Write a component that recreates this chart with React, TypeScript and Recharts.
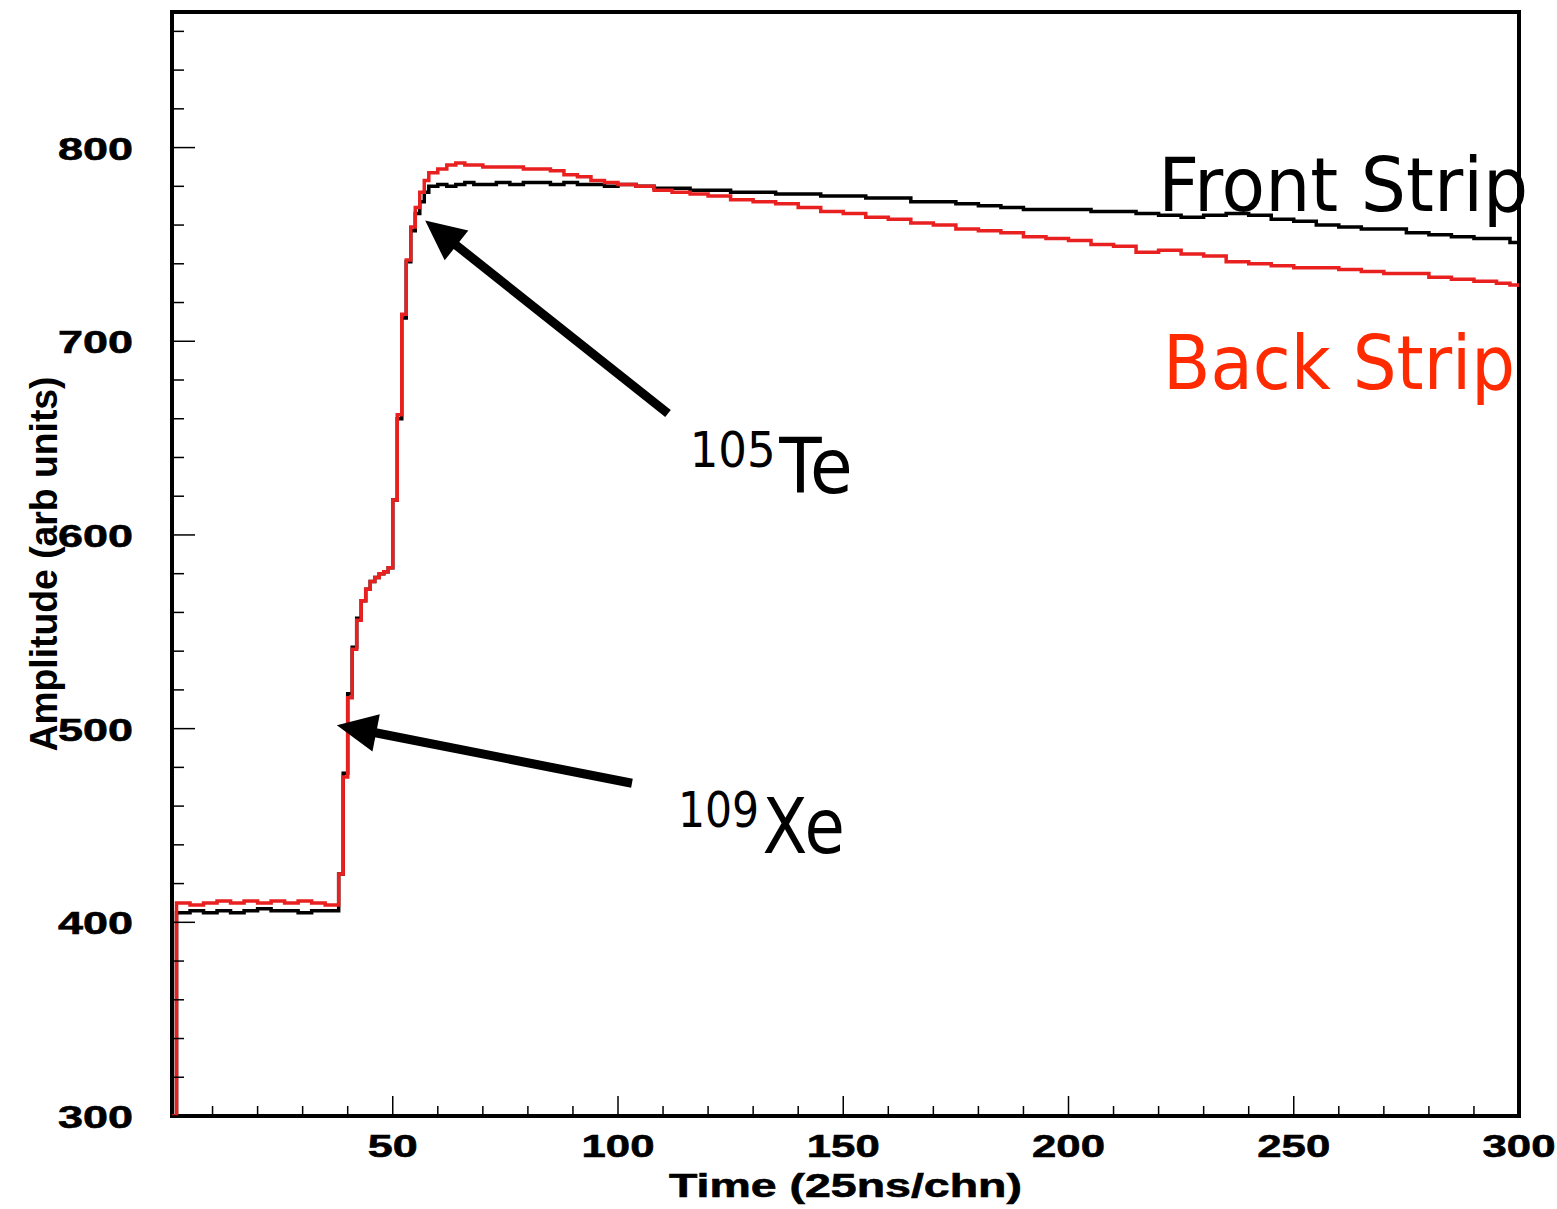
import React from 'react';
import {
  LineChart, Line, XAxis, YAxis, ReferenceArea, ReferenceLine, ReferenceDot,
} from 'recharts';

// ---- data ----
const channels = [1, 2, 5, 8, 11, 14, 17, 20, 23, 26, 29, 32, 35, 38, 39, 40, 41, 42, 43, 44, 45, 46, 47, 48, 49, 50, 51, 52, 53, 54, 55, 56, 57, 58, 60, 62, 64, 66, 68, 70, 73, 76, 79, 82, 85, 88, 91, 94, 97, 100, 104, 108, 112, 116, 120, 125, 130, 135, 140, 145, 150, 155, 160, 165, 170, 175, 180, 185, 190, 195, 200, 205, 210, 215, 220, 225, 230, 235, 240, 245, 250, 255, 260, 265, 270, 275, 280, 285, 290, 295, 298, 300];

const frontStrip = [300, 405, 406, 405, 406, 405, 406, 407, 406, 406, 405, 406, 406, 425, 477, 518, 542, 557, 566, 572, 576, 578, 580, 581, 583, 618, 660, 712, 741, 757, 766, 772, 777, 780, 781, 780, 781, 782, 781, 781, 782, 781, 782, 782, 781, 782, 781, 781, 780, 781, 780, 779, 779, 778, 778, 777, 777, 776, 776, 775, 775, 774, 774, 772, 772, 771, 770, 769, 768, 768, 768, 767, 767, 766, 765, 764, 765, 766, 765, 763, 762, 760, 759, 758, 758, 756, 755, 754, 753, 753, 751, 752];

const backStrip = [300, 410, 409, 410, 411, 410, 411, 410, 411, 410, 411, 410, 409, 425, 475, 516, 541, 556, 566, 572, 576, 578, 580, 581, 583, 618, 662, 714, 742, 759, 769, 777, 783, 787, 789, 791, 792, 791, 791, 790, 790, 790, 789, 789, 788, 786, 785, 783, 782, 781, 780, 778, 777, 776, 775, 773, 772, 771, 769, 767, 766, 764, 763, 761, 760, 758, 757, 756, 754, 753, 752, 750, 749, 746, 747, 745, 744, 741, 740, 739, 738, 738, 737, 736, 735, 735, 733, 732, 731, 730, 729, 728];

const xTicks = [10, 20, 30, 40, 50, 60, 70, 80, 90, 100, 110, 120, 130, 140, 150, 160, 170, 180, 190, 200, 210, 220, 230, 240, 250, 260, 270, 280, 290, 300];
const yTicks = [300, 320, 340, 360, 380, 400, 420, 440, 460, 480, 500, 520, 540, 560, 580, 600, 620, 640, 660, 680, 700, 720, 740, 760, 780, 800, 820, 840, 860];

const xLabel = 'Time (25ns/chn)';
const yLabel = 'Amplitude (arb units)';

// annotations (data coordinates)
const arrowTe = { tail: [111.1, 662.7], tip: [57.2, 762.3] };
const arrowXe = { tail: [103.1, 471.8], tip: [37.6, 501.8] };
const labelTe = { x: 115.9, y: 621.5, mass: '105', el: 'Te' };
const labelXe = { x: 113.3, y: 435.7, mass: '109', el: 'Xe' };
const labelFront = { x: 219.9, y: 767.5, text: 'Front Strip' };
const labelBack = { x: 221.0, y: 675.6, text: 'Back Strip' };

const data = channels.map((c, i) => ({ ch: c, front: frontStrip[i], back: backStrip[i] }));

const TICK_FONT = '"Liberation Sans", Arial, sans-serif';
const ANN_FONT = '"DejaVu Sans", Verdana, sans-serif';

const XTick = (props: any) => {
  const { x, y, payload } = props;
  const v = payload.value;
  const major = v % 50 === 0;
  const txt = String(v);
  return (
    <g>
      <line x1={x} y1={y} x2={x} y2={y - (major ? 20 : 10)} stroke="#000" strokeWidth={1.5} />
      {major && (
        <text x={x} y={y + 41} textAnchor="middle" fontFamily={TICK_FONT} fontWeight={700}
          fontSize={32} fill="#000" stroke="#000" strokeWidth={0.6}
          textLength={txt.length === 2 ? 50 : 73} lengthAdjust="spacingAndGlyphs">
          {txt}
        </text>
      )}
    </g>
  );
};

const YTick = (props: any) => {
  const { x, y, payload } = props;
  const v = payload.value;
  const major = v % 100 === 0;
  return (
    <g>
      <line x1={x} y1={y} x2={x + (major ? 23 : 12)} y2={y} stroke="#000" strokeWidth={1.5} />
      {major && (
        <text x={x - 114} y={y + 12} textAnchor="start" fontFamily={TICK_FONT} fontWeight={700}
          fontSize={32} fill="#000" stroke="#000" strokeWidth={0.6}
          textLength={75} lengthAdjust="spacingAndGlyphs">
          {String(v)}
        </text>
      )}
    </g>
  );
};

const Arrow = (props: any) => {
  const { x1, y1, x2, y2 } = props;
  const dx = x2 - x1;
  const dy = y2 - y1;
  const len = Math.sqrt(dx * dx + dy * dy) || 1;
  const ux = dx / len;
  const uy = dy / len;
  const headLen = 40;
  const headHalf = 19;
  const bx = x2 - ux * headLen;
  const by = y2 - uy * headLen;
  const px = -uy;
  const py = ux;
  return (
    <g>
      <line x1={x1} y1={y1} x2={bx + ux * 2} y2={by + uy * 2} stroke="#000" strokeWidth={9} />
      <polygon
        points={`${x2},${y2} ${bx + px * headHalf},${by + py * headHalf} ${bx - px * headHalf},${by - py * headHalf}`}
        fill="#000"
      />
    </g>
  );
};

const isotopeShape = (mass: string, el: string, totalLen: number) => (p: any) => (
  <text x={p.cx} y={p.cy} fontFamily={ANN_FONT} fill="#000"
    textLength={totalLen} lengthAdjust="spacingAndGlyphs">
    <tspan fontSize={50} dy={-26}>{mass}</tspan>
    <tspan fontSize={77} dy={26} dx={4}>{el}</tspan>
  </text>
);

const stripShape = (text: string, color: string, len: number) => (p: any) => (
  <text x={p.cx} y={p.cy} fontFamily={ANN_FONT} fontSize={74} fill={color}
    textLength={len} lengthAdjust="spacingAndGlyphs">{text}</text>
);

const XAxisLabel = (props: any) => {
  const vb = props.viewBox;
  return (
    <text x={vb.x + vb.width / 2} y={vb.y + 81} textAnchor="middle" fontFamily={TICK_FONT}
      fontWeight={700} fontSize={33} fill="#000" stroke="#000" strokeWidth={0.6}
      textLength={353} lengthAdjust="spacingAndGlyphs">
      {xLabel}
    </text>
  );
};

const YAxisLabel = (props: any) => {
  const vb = props.viewBox;
  const cx = 57;
  const cy = vb.y + vb.height / 2;
  return (
    <text x={cx} y={cy} textAnchor="middle" fontFamily={TICK_FONT} fontWeight={700}
      fontSize={39} fill="#000" transform={`rotate(-90, ${cx}, ${cy})`}
      textLength={375} lengthAdjust="spacingAndGlyphs">
      {yLabel}
    </text>
  );
};

export default function App() {
  return (
    <div style={{ position: 'absolute', left: 0, top: 0, width: 1557, height: 1209, background: '#fff' }}>
      <LineChart width={1557} height={1209} data={data}
        margin={{ top: 12, right: 38, bottom: 0, left: 0 }}>
        <XAxis dataKey="ch" type="number" domain={[1, 300]} ticks={xTicks} interval={0}
          axisLine={false} tickLine={false} tickSize={0} tickMargin={0} height={93}
          tick={<XTick />} label={<XAxisLabel />} allowDataOverflow />
        <YAxis type="number" domain={[300, 870]} ticks={yTicks} interval={0}
          axisLine={false} tickLine={false} tickSize={0} tickMargin={0} width={172}
          tick={<YTick />} label={<YAxisLabel />} allowDataOverflow />
        <ReferenceArea x1={1} x2={300} y1={300} y2={870} fill="none" stroke="#000"
          strokeWidth={4} ifOverflow="visible" />
        <Line type="stepAfter" dataKey="front" stroke="#000" strokeWidth={3.5} dot={false}
          isAnimationActive={false} />
        <Line type="stepAfter" dataKey="back" stroke="#e82020" strokeWidth={3.5} dot={false}
          isAnimationActive={false} />
        <ReferenceLine segment={[{ x: arrowTe.tail[0], y: arrowTe.tail[1] }, { x: arrowTe.tip[0], y: arrowTe.tip[1] }]}
          shape={Arrow} ifOverflow="visible" />
        <ReferenceLine segment={[{ x: arrowXe.tail[0], y: arrowXe.tail[1] }, { x: arrowXe.tip[0], y: arrowXe.tip[1] }]}
          shape={Arrow} ifOverflow="visible" />
        <ReferenceDot x={labelTe.x} y={labelTe.y} r={0} ifOverflow="visible"
          shape={isotopeShape(labelTe.mass, labelTe.el, 163)} />
        <ReferenceDot x={labelXe.x} y={labelXe.y} r={0} ifOverflow="visible"
          shape={isotopeShape(labelXe.mass, labelXe.el, 167)} />
        <ReferenceDot x={labelFront.x} y={labelFront.y} r={0} ifOverflow="visible"
          shape={stripShape(labelFront.text, '#000', 370)} />
        <ReferenceDot x={labelBack.x} y={labelBack.y} r={0} ifOverflow="visible"
          shape={stripShape(labelBack.text, '#ff2a00', 352)} />
      </LineChart>
    </div>
  );
}
